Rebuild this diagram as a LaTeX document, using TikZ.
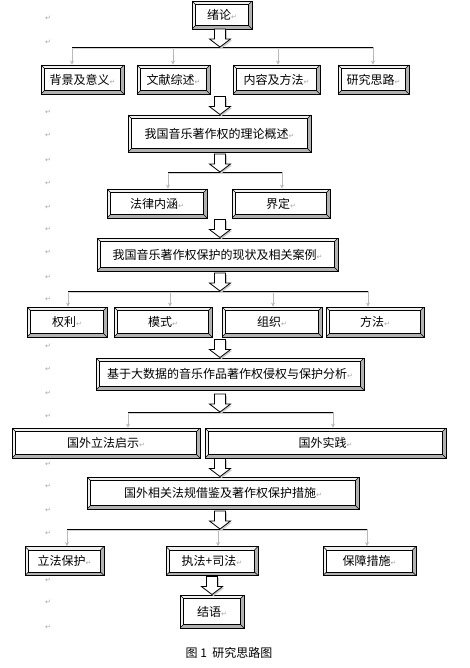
\documentclass[tikz,border=0pt]{standalone}
\usepackage{fontspec}
\setmainfont{Noto Sans CJK SC}
\newfontfamily\markfont{DejaVu Sans}
\usetikzlibrary{arrows.meta}
\newcommand{\pmark}{{\markfont\fontsize{7}{7}\selectfont\color{gray!70}↵}}
\newcommand{\bevw}{3.5pt}
\newcommand{\bevelbox}[1]{%
  \fill[gray!12] (#1.south west) -- (#1.north west) -- (#1.north east)
    -- ([xshift=-\bevw,yshift=-\bevw]#1.north east) -- ([xshift=\bevw,yshift=-\bevw]#1.north west)
    -- ([xshift=\bevw,yshift=\bevw]#1.south west) -- cycle;
  \fill[gray!60] (#1.south west) -- (#1.south east) -- (#1.north east)
    -- ([xshift=-\bevw,yshift=-\bevw]#1.north east) -- ([xshift=-\bevw,yshift=\bevw]#1.south east)
    -- ([xshift=\bevw,yshift=\bevw]#1.south west) -- cycle;
  \draw[line width=0.4pt] (#1.north west) -- ([xshift=\bevw,yshift=-\bevw]#1.north west)
    (#1.north east) -- ([xshift=-\bevw,yshift=-\bevw]#1.north east)
    (#1.south west) -- ([xshift=\bevw,yshift=\bevw]#1.south west)
    (#1.south east) -- ([xshift=-\bevw,yshift=\bevw]#1.south east);
  \draw[line width=0.7pt] ([xshift=\bevw,yshift=-\bevw]#1.north west)
    rectangle ([xshift=-\bevw,yshift=\bevw]#1.south east);
}
\newcommand{\bigarrow}[1]{%
  \begin{scope}[shift={(#1)}]
    \fill[gray!40, shift={(1.5,1.5)}] (-5.5,-18) -- (5.5,-18) -- (5.5,-8) -- (10.5,-8)
      -- (0,0) -- (-10.5,-8) -- (-5.5,-8) -- cycle;
    \draw[hollow] (-5.5,-18) -- (5.5,-18) -- (5.5,-8) -- (10.5,-8)
      -- (0,0) -- (-10.5,-8) -- (-5.5,-8) -- cycle;
  \end{scope}
}

\begin{document}
\begin{tikzpicture}[x=1pt, y=-1pt,
  box/.style={draw, line width=0.9pt, inner sep=0pt,
    font=\fontsize{12}{14}\selectfont,
    path picture={\bevelbox{path picture bounding box}}},
  hollow/.style={draw=black, fill=white, line width=0.8pt, line join=miter},
  branch/.style={line width=0.9pt,
    preaction={draw=gray!35, line width=1.2pt, transform canvas={yshift=-1.5pt}}},
  drop/.style={draw=gray!55, line width=0.6pt, -{Stealth[length=4pt, width=4pt]}},
  pmk/.style={inner sep=0pt, text=gray!70, font=\markfont\fontsize{7}{7}\selectfont}]
\useasboundingbox (0,0) rectangle (470,668);

% Paragraph marks
\foreach \y in {18,42,112,135,160,183,207,229,252,277,299,346,369,393,416,464,486,510,533,580,602,627}
{
    \node[pmk] (Mark-\y) at (48,\y) {↵};
}

\coordinate (axis) at (220,0);

% Intro
\node[box, minimum width=60pt, minimum height=28pt] (Intro) at (222,15) {绪论\pmark};

% Row 1
\foreach \x/\w/\t [count=\i] in {82.5/83/背景及意义, 173.5/73/文献综述, 276.5/87/内容及方法, 373.5/71/研究思路}
{
    \node[box, minimum width=\w pt, minimum height=29pt] (Row1-\i) at (\x,79.5) {\t\pmark};
}

% Theory
\node[box, minimum width=183pt, minimum height=37pt] (Theory) at (219.5,133.5) {我国音乐著作权的理论概述\pmark};

% Row 2
\foreach \x/\w/\t [count=\i] in {157/100/法律内涵, 281/98/界定}
{
    \node[box, minimum width=\w pt, minimum height=29pt] (Row2-\i) at (\x,203.5) {\t\pmark};
}

% Status
\node[box, minimum width=241pt, minimum height=33pt] (Status) at (217.5,254.5) {我国音乐著作权保护的现状及相关案例\pmark};

% Row 3
\foreach \x/\w/\t [count=\i] in {67/80/权利, 163/98/模式, 272/100/组织, 375/98/方法}
{
    \node[box, minimum width=\w pt, minimum height=30pt] (Row3-\i) at (\x,322) {\t\pmark};
}

% Big data
\node[box, minimum width=268pt, minimum height=32pt] (Bigdata) at (230,374) {基于大数据的音乐作品著作权侵权与保护分析\pmark};

% Row 4
\foreach \x/\w/\t [count=\i] in {106/188/国外立法启示, 325.5/241/国外实践}
{
    \node[box, minimum width=\w pt, minimum height=30pt] (Row4-\i) at (\x,443) {\t\pmark};
}

% Measures
\node[box, minimum width=272pt, minimum height=32pt] (Measure) at (223,493) {国外相关法规借鉴及著作权保护措施\pmark};

% Row 5
\foreach \x/\w/\t [count=\i] in {64.5/79/立法保护, 212/92/执法+司法, 369.5/93/保障措施}
{
    \node[box, minimum width=\w pt, minimum height=29pt] (Row5-\i) at (\x,561) {\t\pmark};
}

% Conclusion
\node[box, minimum width=64pt, minimum height=33pt] (Concl) at (212,611.5) {结语\pmark};

% Caption
\node[font=\fontsize{12}{14}\selectfont] (Caption) at (229,653) {图 1 \ 研究思路图};

% Branch lines
\foreach \x [count=\i] in {72,173,278,373}
{
    \coordinate (D1-\i) at (\x,47);
    \draw[drop] (D1-\i) -- (D1-\i |- Row1-\i.north);
}
\draw[branch] (D1-1) -- (D1-4);

\foreach \x [count=\i] in {168,282}
{
    \coordinate (D2-\i) at (\x,172);
    \draw[drop] (D2-\i) -- (D2-\i |- Row2-\i.north);
}
\draw[branch] (D2-1) -- (D2-2);

\foreach \x [count=\i] in {68,170,273,368}
{
    \coordinate (D3-\i) at (\x,291);
    \draw[drop] (D3-\i) -- (D3-\i |- Row3-\i.north);
}
\draw[branch] (D3-1) -- (D3-4);

\foreach \x [count=\i] in {128,333}
{
    \coordinate (D4-\i) at (\x,412);
    \draw[drop] (D4-\i) -- (D4-\i |- Row4-\i.north);
}
\draw[branch] (D4-1) -- (D4-2);

\foreach \x [count=\i] in {67,218,367}
{
    \coordinate (D5-\i) at (\x,529);
    \draw[drop] (D5-\i) -- (D5-\i |- Row5-\i.north);
}
\draw[branch] (D5-1) -- (D5-3);

% Hollow arrows
\bigarrow{axis |- D1-1}
\bigarrow{axis |- Theory.north}
\bigarrow{axis |- D2-1}
\bigarrow{axis |- Status.north}
\bigarrow{axis |- D3-1}
\bigarrow{axis |- Bigdata.north}
\bigarrow{axis |- D4-1}
\bigarrow{axis |- Measure.north}
\bigarrow{axis |- D5-1}
\bigarrow{Concl.north}

\end{tikzpicture}
\end{document}
